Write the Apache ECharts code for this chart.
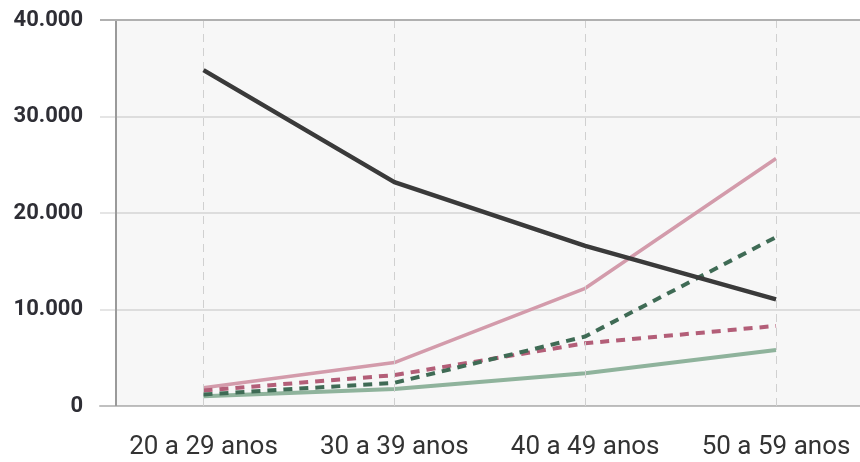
<!DOCTYPE html>
<html>
<head>
<meta charset="utf-8">
<script src="https://cdn.jsdelivr.net/npm/echarts@6/dist/echarts.min.js"></script>
<style>
  html, body { margin: 0; padding: 0; background: #ffffff; }
  #chart { width: 860px; height: 462px; }
</style>
</head>
<body>
<div id="chart"></div>
<script>
// Age groups along the horizontal axis
const categories = ['20 a 29 anos', '30 a 39 anos', '40 a 49 anos', '50 a 59 anos'];

// Values per age group for each line
const darkSolid   = [34800, 23200, 16600, 11050];
const pinkSolid   = [1900, 4500, 12200, 25650];
const greenDashed = [1200, 2400, 7200, 17500];
const pinkDashed  = [1600, 3200, 6500, 8300];
const greenSolid  = [1000, 1750, 3400, 5800];

// Vertical axis ticks
const yTicks = [0, 10000, 20000, 30000, 40000];

const FONT = 'Roboto, "Noto Sans", sans-serif';
const X_MIN = -0.5424;   // left edge of the grid (gridlines start here)
const X_PLOT = -0.4586;  // where the shaded plot area and its left rule begin
const X_MAX = 3.44;

const toPoints = arr => arr.map((v, i) => [i, v]);
const fmtThousands = v => String(v).replace(/\B(?=(\d{3})+(?!\d))/g, '.');

const chart = echarts.init(document.getElementById('chart'), null, { renderer: 'canvas' });

function lineSeries(name, values, color, width, dashed, z) {
  return {
    name,
    type: 'line',
    data: toPoints(values),
    symbol: 'none',
    smooth: false,
    z,
    lineStyle: { color, width, type: dashed ? [9, 7] : 'solid', cap: 'butt' }
  };
}

const base = lineSeries('Preto', darkSolid, '#3a3a3a', 4.5, false, 6);
base.markArea = {
  silent: true,
  itemStyle: { color: 'rgba(0,0,0,0.03)' },
  data: [[{ xAxis: X_PLOT, yAxis: 0 }, { xAxis: X_MAX, yAxis: 40000 }]]
};
base.markLine = {
  silent: true,
  symbol: 'none',
  label: { show: false },
  animation: false,
  data: [
    { xAxis: 0, lineStyle: { color: '#d0d0d0', width: 1, type: [8, 6] } },
    { xAxis: 1, lineStyle: { color: '#d0d0d0', width: 1, type: [8, 6] } },
    { xAxis: 2, lineStyle: { color: '#d0d0d0', width: 1, type: [8, 6] } },
    { xAxis: 3, lineStyle: { color: '#d0d0d0', width: 1, type: [8, 6] } },
    { xAxis: X_PLOT, lineStyle: { color: '#9a9a9a', width: 2, type: 'solid' } },
    { yAxis: 40000, lineStyle: { color: '#b0b0b0', width: 2, type: 'solid' } }
  ]
};

chart.setOption({
  animation: false,
  backgroundColor: '#ffffff',
  grid: { left: 100, right: 0, top: 20, bottom: 56, containLabel: false },
  xAxis: {
    type: 'value',
    min: X_MIN,
    max: X_MAX,
    axisLine: { show: true, lineStyle: { color: '#c0c0c0', width: 2 } },
    axisTick: { show: false },
    splitLine: { show: false },
    axisLabel: {
      customValues: [0, 1, 2, 3],
      formatter: v => categories[Math.round(v)] || '',
      color: '#333333',
      fontFamily: FONT,
      fontSize: 26,
      margin: 28,
      hideOverlap: false
    }
  },
  yAxis: {
    type: 'value',
    min: yTicks[0],
    max: yTicks[yTicks.length - 1],
    interval: yTicks[1] - yTicks[0],
    axisLine: { show: false },
    axisTick: { show: false },
    splitLine: { show: true, lineStyle: { color: '#dcdcdc', width: 1.5 } },
    axisLabel: {
      formatter: v => fmtThousands(v),
      color: '#2e2e35',
      fontFamily: FONT,
      fontWeight: 'bold',
      fontSize: 22,
      margin: 17
    }
  },
  series: [
    base,
    lineSeries('Rosa', pinkSolid, '#d39bab', 3.5, false, 3),
    lineSeries('Verde tracejado', greenDashed, '#3f6b55', 4, true, 5),
    lineSeries('Rosa tracejado', pinkDashed, '#b35e78', 4, true, 4),
    lineSeries('Verde', greenSolid, '#8fb39c', 4, false, 2)
  ]
});
</script>
</body>
</html>
